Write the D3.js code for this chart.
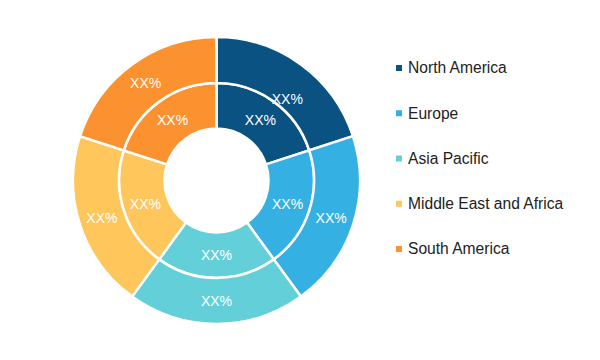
<!DOCTYPE html>
<html>
<head>
<meta charset="utf-8">
<script src="https://cdn.jsdelivr.net/npm/d3@7"></script>
<style>
  html, body { margin: 0; padding: 0; background: #fff; }
  svg { display: block; }
</style>
</head>
<body>
<svg id="chart" width="600" height="360"></svg>
<script>
const categories = ["North America", "Europe", "Asia Pacific", "Middle East and Africa", "South America"];
const outerValues = [20, 20, 20, 20, 20];
const innerValues = [20, 20, 20, 20, 20];
const outerLabels = ["XX%", "XX%", "XX%", "XX%", "XX%"];
const innerLabels = ["XX%", "XX%", "XX%", "XX%", "XX%"];
const colors = ["#0a5282", "#35b0e3", "#63cfd8", "#ffc65b", "#fc9130"];

const svg = d3.select("#chart");
const cx = 216.5, cy = 180.5;
const rHole = 52, rMid = 97.5, rOuter = 143.5;

const color = d3.scaleOrdinal().domain(categories).range(colors);
const pie = d3.pie().sort(null).value(d => d.v);

const g = svg.append("g").attr("transform", `translate(${cx},${cy})`);

function ring(values, labels, r0, r1, nudge) {
  const data = pie(values.map((v, i) => ({ v, c: categories[i], l: labels[i] })));
  const arc = d3.arc().innerRadius(r0).outerRadius(r1);
  const rg = g.append("g");
  rg.selectAll("path").data(data).join("path")
    .attr("d", arc)
    .attr("fill", d => color(d.data.c))
    .attr("stroke", "#fff")
    .attr("stroke-width", 2.5)
    .attr("stroke-linejoin", "miter");
  rg.selectAll("text").data(data).join("text")
    .attr("transform", (d, i) => {
      const [x, y] = arc.centroid(d);
      const n = nudge(i);
      return `translate(${x + n[0]},${y + n[1]})`;
    })
    .attr("text-anchor", "middle")
    .attr("dy", "0.35em")
    .attr("fill", "#fff")
    .attr("font-family", "Liberation Sans, Arial, sans-serif")
    .attr("font-size", 14)
    .text(d => d.data.l);
}
ring(innerValues, innerLabels, rHole, rMid, () => [0, 0]);
ring(outerValues, outerLabels, rMid, rOuter, i => (i === 0 ? [0, 16] : [0, 0]));

const legend = svg.append("g").attr("transform", "translate(396,68)");
const rowY = d3.scalePoint().domain(categories).range([0, 181]);
const items = legend.selectAll("g").data(categories).join("g")
  .attr("transform", d => `translate(0,${rowY(d)})`);
items.append("rect")
  .attr("x", 0).attr("y", -3).attr("width", 6).attr("height", 6)
  .attr("fill", d => color(d));
items.append("text")
  .attr("x", 12).attr("y", 0).attr("dy", "0.35em")
  .attr("font-family", "Liberation Sans, Arial, sans-serif")
  .attr("font-size", 15.6)
  .attr("fill", "#222")
  .text(d => d);
</script>
</body>
</html>
